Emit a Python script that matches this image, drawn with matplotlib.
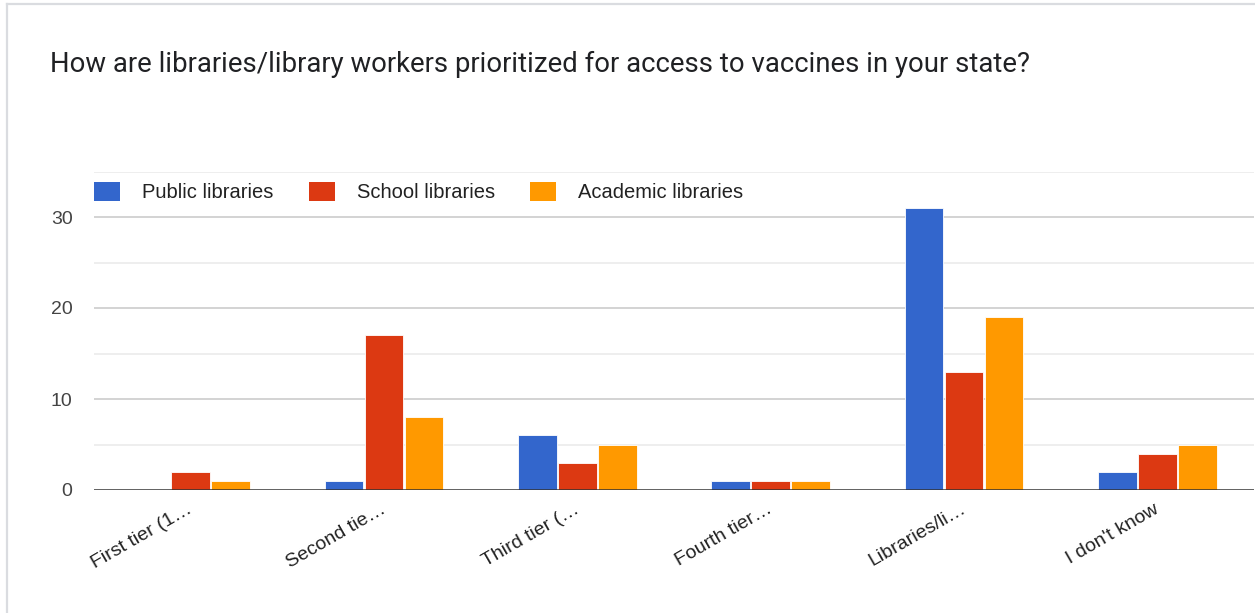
import matplotlib
matplotlib.use("Agg")
import matplotlib.pyplot as plt
from matplotlib.patches import Patch
import matplotlib.transforms as mtransforms
import numpy as np

title = "How are libraries/library workers prioritized for access to vaccines in your state?"
categories = ["First tier (1\u2026", "Second tie\u2026", "Third tier (\u2026",
              "Fourth tier\u2026", "Libraries/li\u2026", "I don't know"]
series_names = ["Public libraries", "School libraries", "Academic libraries"]
public_vals = [0, 1, 6, 1, 31, 2]
school_vals = [2, 17, 3, 1, 13, 4]
academic_vals = [1, 8, 5, 1, 19, 5]
y_ticks = [0, 10, 20, 30]

colors = ["#3366CC", "#DC3912", "#FF9900"]

W, H = 1255, 613
fig = plt.figure(figsize=(W / 100, H / 100), dpi=100)
fig.patch.set_facecolor("white")

# card border (left and top edges visible)
fig.add_artist(plt.Line2D([7 / W, 7 / W], [0, 1 - 4 / H], color="#dadce0", lw=1.6,
                          transform=fig.transFigure))
fig.add_artist(plt.Line2D([7 / W, 1], [1 - 4 / H, 1 - 4 / H], color="#dadce0", lw=1.6,
                          transform=fig.transFigure))

fig.text(50 / W, 1 - 64 / H, title, fontsize=19.8, family="Roboto", color="#202124",
         ha="left", va="center")

left, right, top, bottom = 94, 1254, 171.5, 490
ax = fig.add_axes([left / W, 1 - bottom / H, (right - left) / W, (bottom - top) / H])
ax.set_xlim(-0.5, len(categories) - 0.5)
ax.set_ylim(0, 35)

for s in ax.spines.values():
    s.set_visible(False)

# gridlines: major every 10, minor every 5
for v in [5, 15, 25, 35]:
    ax.axhline(v, color="#ebebeb", lw=1.2, zorder=0)
for v in [10, 20, 30]:
    ax.axhline(v, color="#cccccc", lw=1.2, zorder=0)

x = np.arange(len(categories))
bw = 0.2
step = 0.207
for i, (vals, c) in enumerate(zip([public_vals, school_vals, academic_vals], colors)):
    ax.bar(x + (i - 1) * step, vals, width=bw, color=c, edgecolor="white",
           linewidth=0.6, zorder=2)

ax.axhline(0, color="#333333", lw=1.8, zorder=3)

ax.set_yticks(y_ticks)
ax.set_yticklabels([str(t) for t in y_ticks], family="Liberation Sans", fontsize=14,
                   color="#444444")
ax.tick_params(axis="y", length=0, pad=15.5)

ax.set_xticks(x)
ax.set_xticklabels(categories, rotation=30, ha="right", rotation_mode="anchor",
                   family="Liberation Sans", fontsize=14, color="#222222")
ax.tick_params(axis="x", length=0, pad=7.5)
shift = mtransforms.ScaledTranslation(-4 / 100, 0, fig.dpi_scale_trans)
for lbl in ax.get_xticklabels():
    lbl.set_transform(lbl.get_transform() + shift)

handles = [Patch(facecolor=c, edgecolor="none") for c in colors]
leg = ax.legend(handles, series_names, loc="upper left", ncol=3, frameon=False,
                bbox_to_anchor=(0.0, 1.0), borderaxespad=0.0, borderpad=0.0,
                handlelength=1.29, handleheight=1.1, handletextpad=1.1,
                columnspacing=1.74, prop={"family": "Liberation Sans", "size": 14.5})
for t in leg.get_texts():
    t.set_color("#222222")
# nudge the legend down into the band between the 35 and 30 gridlines
leg.set_bbox_to_anchor((0.0, 1.0 - 10 / (bottom - top)), transform=ax.transAxes)

fig.savefig("out.png", dpi=100, facecolor="white")
